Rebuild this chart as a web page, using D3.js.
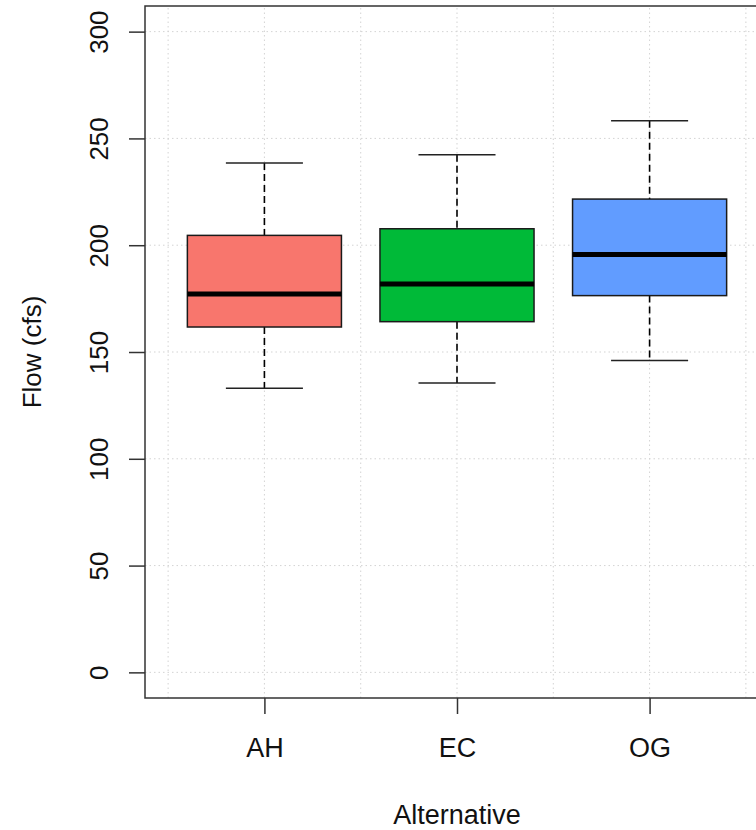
<!DOCTYPE html>
<html>
<head>
<meta charset="utf-8">
<script src="https://cdn.jsdelivr.net/npm/d3@7"></script>
<style>
  body { margin: 0; background: #fff; }
  svg { display: block; font-family: "Liberation Sans", Arial, sans-serif; }
</style>
</head>
<body>
<div id="chart"></div>
<script>
var width = 756,
    height = 830;

// boxplot stats
var groups = ["AH", "EC", "OG"];
var lowWhisker = [133, 135.5, 146];
var q1 = [161.7, 164.2, 176.4];
var median = [177.2, 181.8, 195.7];
var q3 = [204.6, 207.7, 221.6];
var highWhisker = [238.5, 242.4, 258.3];
var colors = ["#F8766D", "#00BA38", "#619CFF"];

var yTicks = [0, 50, 100, 150, 200, 250, 300];
var gridX = [0.5, 1, 1.5, 2, 2.5, 3, 3.5];

var svg = d3.select("#chart")
    .append("svg")
    .attr("width", width)
    .attr("height", height);

// R style range: 0.5..3.5 and 0..300 padded by 4%
var x = d3.scaleLinear().domain([0.38, 3.62]).range([145, 769]);
var y = d3.scaleLinear().domain([-12, 312]).range([698, 6]);

// grid
var grid = svg.append("g").attr("class", "grid")
    .attr("stroke", "#d3d3d3")
    .attr("stroke-width", 1)
    .attr("stroke-dasharray", "1.5,3");

grid.selectAll("line.h")
    .data(yTicks)
    .enter().append("line")
    .attr("class", "h")
    .attr("x1", x.range()[0]).attr("x2", x.range()[1])
    .attr("y1", function(d) { return y(d); })
    .attr("y2", function(d) { return y(d); });

grid.selectAll("line.v")
    .data(gridX)
    .enter().append("line")
    .attr("class", "v")
    .attr("y1", y.range()[0]).attr("y2", y.range()[1])
    .attr("x1", function(d) { return x(d); })
    .attr("x2", function(d) { return x(d); });

// boxes
var boxW = 0.4, capW = 0.2;

var box = svg.append("g").attr("class", "boxes")
    .selectAll("g")
    .data(groups)
    .enter().append("g");

// whiskers
box.append("line")
    .attr("x1", function(d, i) { return x(i + 1); })
    .attr("x2", function(d, i) { return x(i + 1); })
    .attr("y1", function(d, i) { return y(highWhisker[i]); })
    .attr("y2", function(d, i) { return y(q3[i]); })
    .attr("stroke", "#000").attr("stroke-width", 1.6)
    .attr("stroke-dasharray", "7,4");

box.append("line")
    .attr("x1", function(d, i) { return x(i + 1); })
    .attr("x2", function(d, i) { return x(i + 1); })
    .attr("y1", function(d, i) { return y(q1[i]); })
    .attr("y2", function(d, i) { return y(lowWhisker[i]); })
    .attr("stroke", "#000").attr("stroke-width", 1.6)
    .attr("stroke-dasharray", "7,4");

// staples
[highWhisker, lowWhisker].forEach(function(arr) {
  box.append("line")
      .attr("x1", function(d, i) { return x(i + 1 - capW); })
      .attr("x2", function(d, i) { return x(i + 1 + capW); })
      .attr("y1", function(d, i) { return y(arr[i]); })
      .attr("y2", function(d, i) { return y(arr[i]); })
      .attr("stroke", "#222").attr("stroke-width", 1.5);
});

box.append("rect")
    .attr("x", function(d, i) { return x(i + 1 - boxW); })
    .attr("width", function(d, i) { return x(i + 1 + boxW) - x(i + 1 - boxW); })
    .attr("y", function(d, i) { return y(q3[i]); })
    .attr("height", function(d, i) { return y(q1[i]) - y(q3[i]); })
    .attr("fill", function(d, i) { return colors[i]; })
    .attr("stroke", "#1a1a1a")
    .attr("stroke-width", 1.5);

box.append("line")
    .attr("x1", function(d, i) { return x(i + 1 - boxW); })
    .attr("x2", function(d, i) { return x(i + 1 + boxW); })
    .attr("y1", function(d, i) { return y(median[i]); })
    .attr("y2", function(d, i) { return y(median[i]); })
    .attr("stroke", "#000").attr("stroke-width", 5);

// frame
svg.append("rect")
    .attr("x", x.range()[0])
    .attr("y", y.range()[1])
    .attr("width", x.range()[1] - x.range()[0])
    .attr("height", y.range()[0] - y.range()[1])
    .attr("fill", "none")
    .attr("stroke", "#333")
    .attr("stroke-width", 1.5);

// y axis
var yAxis = svg.append("g")
    .attr("transform", "translate(" + x.range()[0] + ",0)")
    .call(d3.axisLeft(y).tickValues(yTicks).tickSize(16));

yAxis.select(".domain").remove();
yAxis.selectAll(".tick line").attr("stroke", "#333").attr("stroke-width", 1.5);
yAxis.selectAll(".tick text")
    .attr("x", null).attr("dy", null)
    .attr("text-anchor", "middle")
    .attr("transform", "translate(-37,0) rotate(-90)")
    .attr("fill", "#111")
    .style("font-size", "26px")
    .style("font-family", "Liberation Sans, Arial, sans-serif");

// x axis
var xAxis = svg.append("g")
    .attr("transform", "translate(0," + y.range()[0] + ")")
    .call(d3.axisBottom(x).tickValues([1, 2, 3]).tickSize(16)
      .tickFormat(function(d) { return groups[d - 1]; }));

xAxis.select(".domain").remove();
xAxis.selectAll(".tick line").attr("stroke", "#333").attr("stroke-width", 1.5);
xAxis.selectAll(".tick text")
    .attr("y", 59).attr("dy", null)
    .attr("fill", "#111")
    .style("font-size", "27px")
    .style("font-family", "Liberation Sans, Arial, sans-serif");

// axis titles
svg.append("text")
    .attr("x", x(2))
    .attr("y", 824)
    .attr("text-anchor", "middle")
    .attr("fill", "#111")
    .style("font-size", "27px")
    .text("Alternative");

svg.append("text")
    .attr("transform", "translate(41," + (y.range()[0] + y.range()[1]) / 2 + ") rotate(-90)")
    .attr("text-anchor", "middle")
    .attr("fill", "#111")
    .style("font-size", "26px")
    .text("Flow (cfs)");
</script>
</body>
</html>
